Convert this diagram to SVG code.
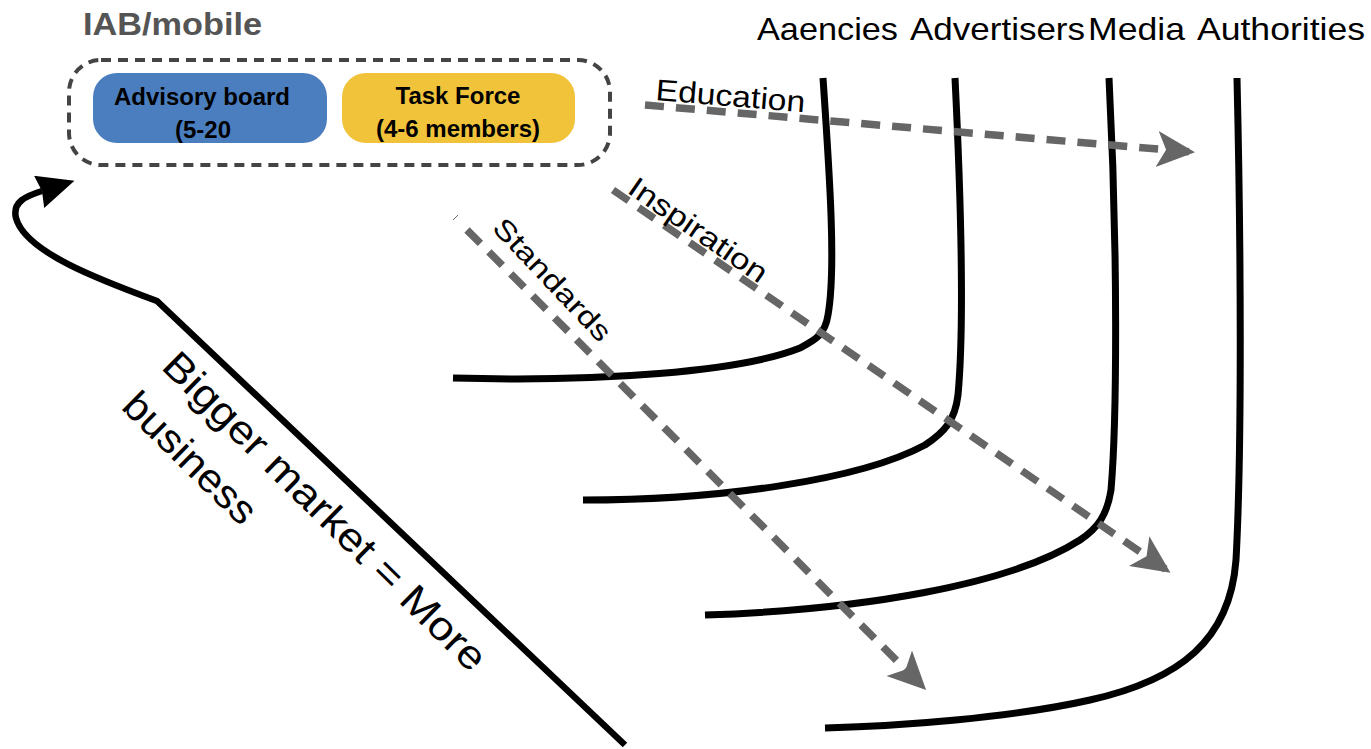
<svg xmlns="http://www.w3.org/2000/svg" width="1371" height="749" viewBox="0 0 1371 749">
<style>
.fut{font-family:"Liberation Sans",Arial,sans-serif;fill:#000}
.cal{font-family:"Liberation Sans",Arial,sans-serif;font-weight:bold;fill:#000}
.curve{fill:none;stroke:#000;stroke-width:7;stroke-linecap:butt}
.dash{fill:none;stroke:#666;stroke-width:7.5;stroke-dasharray:19 12}
</style>
<defs>
<marker id="gh" markerUnits="userSpaceOnUse" markerWidth="42" markerHeight="38" viewBox="0 0 42 38" refX="35" refY="18" orient="auto">
<path d="M0,0 L38,18 L0,36 L9,18 Z" fill="#666"/>
</marker>
<marker id="bh" markerUnits="userSpaceOnUse" markerWidth="40" markerHeight="36" viewBox="0 0 40 36" refX="3" refY="17" orient="auto">
<path d="M0,0 L37,17 L0,34 L3,17 Z" fill="#000"/>
</marker>
</defs>

<g id="group-iab">
<text class="cal" x="83" y="35" font-size="32" style="fill:#555" textLength="179" lengthAdjust="spacingAndGlyphs">IAB/mobile</text>
<rect x="69" y="60" width="541" height="105" rx="32" fill="none" stroke="#444" stroke-width="4" stroke-dasharray="10 7"/>
</g>

<g id="advisory-board">
<rect x="93" y="73" width="234" height="70" rx="24" fill="#4a7ebf"/>
<text class="cal" x="202" y="105" font-size="24" text-anchor="middle">Advisory board</text>
<text class="cal" x="203" y="138" font-size="24" text-anchor="middle">(5-20</text>
</g>

<g id="task-force">
<rect x="342" y="73" width="233" height="70" rx="24" fill="#f1c33b"/>
<text class="cal" x="458" y="104" font-size="24" text-anchor="middle">Task Force</text>
<text class="cal" x="458" y="137" font-size="24" text-anchor="middle">(4-6 members)</text>
</g>

<g id="headings">
<text class="fut" x="757" y="40" font-size="32" textLength="141" lengthAdjust="spacingAndGlyphs">Aaencies</text>
<text class="fut" x="910" y="40" font-size="32" textLength="175" lengthAdjust="spacingAndGlyphs">Advertisers</text>
<text class="fut" x="1088" y="40" font-size="32" textLength="97" lengthAdjust="spacingAndGlyphs">Media</text>
<text class="fut" x="1197" y="40" font-size="32" textLength="168" lengthAdjust="spacingAndGlyphs">Authorities</text>
</g>

<g id="curves">
<path id="agencies" class="curve" d="M823,78 C830,180 836,270 828,315 C825,335 815,340 800,348 C740,372 600,382 453,378"/>
<path id="advertisers" class="curve" d="M955,78 C961,200 964,330 958,395 C955,420 945,432 925,445 C860,480 720,500 583,500"/>
<path id="media" class="curve" d="M1109,78 C1118,250 1117,420 1111,490 C1107,515 1098,528 1080,540 C1010,585 860,610 705,615"/>
<path id="authorities" class="curve" d="M1237,78 C1241,250 1242,450 1236,560 C1230,640 1180,680 1090,700 C1010,718 900,726 825,728"/>
</g>

<g id="connectors">
<path id="education" class="dash" d="M645,105 L1192,152" marker-end="url(#gh)"/>
<path id="inspiration" class="dash" d="M613,190 L1168,571" marker-end="url(#gh)"/>
<path id="standards" class="dash" d="M467,230 L924,688" marker-end="url(#gh)"/>
<path d="M453,220 L458,215" stroke="#666" stroke-width="1" fill="none"/>
<path id="bigger-market" fill="none" stroke="#000" stroke-width="6.5" d="M625,745 L157,301 C100,280 25,252 16,218 C12,202 26,196 42,191" marker-end="url(#bh)"/>
</g>

<g id="labels">
<text class="fut" font-size="30" transform="translate(655,100) rotate(4.7)" textLength="150" lengthAdjust="spacingAndGlyphs">Education</text>
<text class="fut" font-size="29" transform="translate(626,192) rotate(34.6)" textLength="162" lengthAdjust="spacingAndGlyphs">Inspiration</text>
<text class="fut" font-size="28" transform="translate(491,229) rotate(46.5)" textLength="158" lengthAdjust="spacingAndGlyphs">Standards</text>
<text class="fut" font-size="40" transform="translate(160,368) rotate(44.5)" textLength="436" lengthAdjust="spacingAndGlyphs">Bigger market = More</text>
<text class="fut" font-size="40" transform="translate(120,408) rotate(44.5)" textLength="170" lengthAdjust="spacingAndGlyphs">business</text>
</g>
</svg>
